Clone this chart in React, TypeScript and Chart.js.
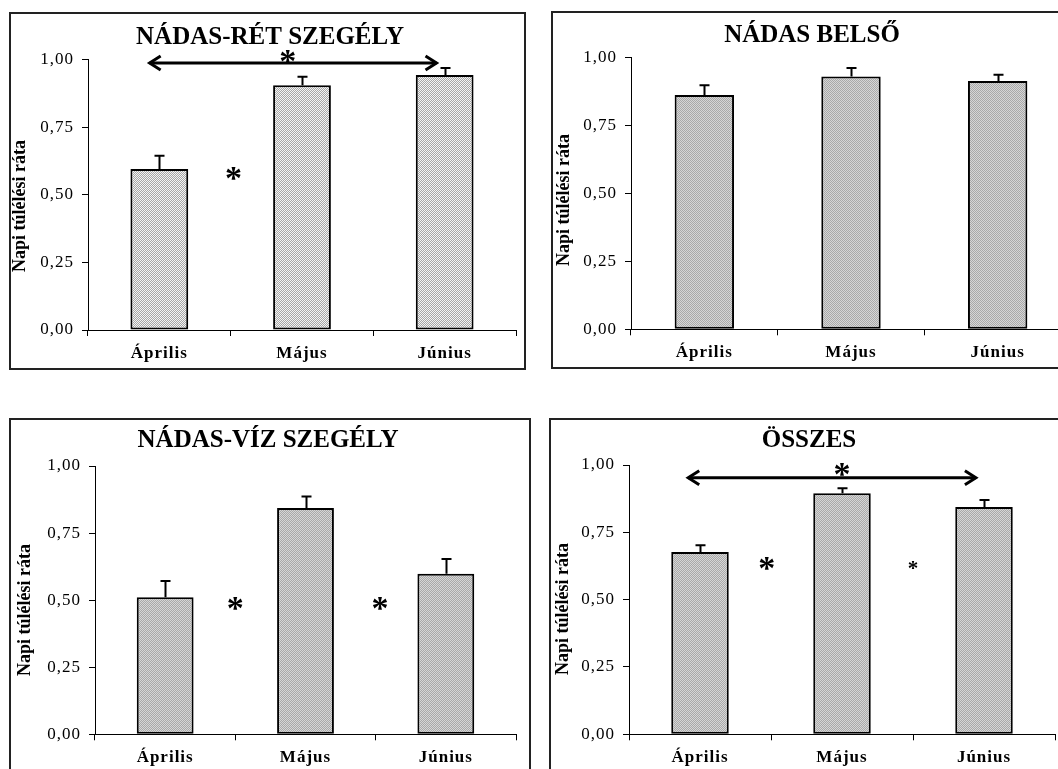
import React, { useEffect, useRef } from "react";
import { Chart, registerables } from "chart.js";

Chart.register(...registerables);

// ---------------- DATA ----------------
const months = ["Április", "Május", "Június"];
const yTickLabels = ["0,00", "0,25", "0,50", "0,75", "1,00"];
const yAxisTitle = "Napi túlélési ráta";

const titles = ["NÁDAS-RÉT SZEGÉLY", "NÁDAS BELSŐ", "NÁDAS-VÍZ SZEGÉLY", "ÖSSZES"];

const retMeans = [0.595, 0.905, 0.943];
const retErrors = [0.049, 0.031, 0.026];

const belsoMeans = [0.863, 0.931, 0.914];
const belsoErrors = [0.036, 0.031, 0.023];

const vizMeans = [0.511, 0.843, 0.598];
const vizErrors = [0.06, 0.043, 0.055];

const osszesMeans = [0.677, 0.895, 0.844];
const osszesErrors = [0.025, 0.019, 0.026];

// significance annotations (category index, value)
const retArrows = [{ from: -0.075, to: 1.95, y: 0.987 }];
const retStars = [
  { x: 0.9, y: 1.012, size: 34 },
  { x: 0.52, y: 0.579, size: 34 },
];
const belsoArrows: any[] = [];
const belsoStars: any[] = [];
const vizArrows: any[] = [];
const vizStars = [
  { x: 0.5, y: 0.489, size: 34 },
  { x: 1.53, y: 0.489, size: 34 },
];
const osszesArrows = [{ from: -0.09, to: 1.95, y: 0.953 }];
const osszesStars = [
  { x: 1.0, y: 0.985, size: 34 },
  { x: 0.47, y: 0.635, size: 34 },
  { x: 1.5, y: 0.629, size: 21 },
];

// ---------------- LAYOUT (page pixels) ----------------
const SERIF = '"Liberation Serif", "Times New Roman", Times, serif';

const panels = [
  {
    title: titles[0], means: retMeans, errors: retErrors, arrows: retArrows, stars: retStars,
    left: 9, top: 12, width: 517, height: 358,
    axisX: 88, y1: 59.5, y0: 330, xEnd: 516,
    titleX: 270, titleY: 43.5, labelX: 20, labelY: 206, light: true,
  },
  {
    title: titles[1], means: belsoMeans, errors: belsoErrors, arrows: belsoArrows, stars: belsoStars,
    left: 551, top: 11, width: 524, height: 358,
    axisX: 631, y1: 57.7, y0: 329.3, xEnd: 1071,
    titleX: 812, titleY: 41.5, labelX: 564, labelY: 200, light: false,
  },
  {
    title: titles[2], means: vizMeans, errors: vizErrors, arrows: vizArrows, stars: vizStars,
    left: 9, top: 418, width: 522, height: 372,
    axisX: 95, y1: 466, y0: 734.3, xEnd: 516,
    titleX: 268, titleY: 446.7, labelX: 25, labelY: 610, light: false,
  },
  {
    title: titles[3], means: osszesMeans, errors: osszesErrors, arrows: osszesArrows, stars: osszesStars,
    left: 549, top: 418, width: 526, height: 372,
    axisX: 629, y1: 465, y0: 734.3, xEnd: 1055,
    titleX: 809, titleY: 446.7, labelX: 563, labelY: 609, light: false,
  },
];

function makePattern(light: boolean) {
  const pc = document.createElement("canvas");
  pc.width = 2;
  pc.height = 2;
  const g = pc.getContext("2d")!;
  g.fillStyle = light ? "#f4f4f4" : "#d6d6d6";
  g.fillRect(0, 0, 2, 2);
  g.fillStyle = light ? "#a6a6a6" : "#a9a9a9";
  g.fillRect(0, 0, 1, 1);
  g.fillRect(1, 1, 1, 1);
  return g.createPattern(pc, "repeat");
}

function Panel({ p }: { p: any }) {
  const ref = useRef<HTMLCanvasElement>(null);

  useEffect(() => {
    const canvas = ref.current!;
    const spacing = {
      id: "spacing",
      beforeDraw(chart: any) {
        (chart.ctx as any).letterSpacing = "1px";
      },
    };
    const errorBars = {
      id: "errorBars",
      afterDatasetsDraw(chart: any) {
        const ctx = chart.ctx;
        const ys = chart.scales.y;
        const meta = chart.getDatasetMeta(0);
        ctx.save();
        ctx.strokeStyle = "#000";
        ctx.lineWidth = 2;
        meta.data.forEach((el: any, i: number) => {
          const top = ys.getPixelForValue(p.means[i] + p.errors[i]);
          const x = Math.round(el.x) + 0.5;
          ctx.beginPath();
          ctx.moveTo(x, el.y);
          ctx.lineTo(x, top);
          ctx.moveTo(x - 5, top);
          ctx.lineTo(x + 5, top);
          ctx.stroke();
        });
        ctx.restore();
      },
    };
    const decorations = {
      id: "decorations",
      afterDraw(chart: any) {
        const ctx = chart.ctx;
        const xs = chart.scales.x;
        const ys = chart.scales.y;
        ctx.save();
        ctx.letterSpacing = "0px";
        // title
        ctx.fillStyle = "#000";
        ctx.font = `bold 25px ${SERIF}`;
        ctx.textAlign = "center";
        ctx.textBaseline = "alphabetic";
        ctx.fillText(p.title, p.titleX - p.left, p.titleY - p.top);
        // y axis title
        ctx.save();
        ctx.translate(p.labelX - p.left, p.labelY - p.top);
        ctx.rotate(-Math.PI / 2);
        ctx.font = `bold 18px ${SERIF}`;
        ctx.textBaseline = "middle";
        ctx.fillText(yAxisTitle, 0, 0);
        ctx.restore();
        // arrows
        ctx.strokeStyle = "#000";
        ctx.lineWidth = 3;
        ctx.lineCap = "butt";
        ctx.lineJoin = "miter";
        p.arrows.forEach((a: any) => {
          const x1 = xs.getPixelForValue(a.from);
          const x2 = xs.getPixelForValue(a.to);
          const y = ys.getPixelForValue(a.y);
          ctx.beginPath();
          ctx.moveTo(x1 + 1, y);
          ctx.lineTo(x2 - 1, y);
          ctx.stroke();
          ctx.beginPath();
          ctx.moveTo(x1 + 12, y - 7);
          ctx.lineTo(x1 + 1, y);
          ctx.lineTo(x1 + 12, y + 7);
          ctx.moveTo(x2 - 12, y - 7);
          ctx.lineTo(x2 - 1, y);
          ctx.lineTo(x2 - 12, y + 7);
          ctx.stroke();
        });
        // stars
        p.stars.forEach((s: any) => {
          const x = xs.getPixelForValue(s.x);
          const y = ys.getPixelForValue(s.y);
          ctx.font = `bold ${s.size}px ${SERIF}`;
          ctx.textAlign = "center";
          ctx.textBaseline = "alphabetic";
          ctx.fillText("*", x, y + s.size * 0.47);
        });
        ctx.restore();
      },
    };

    const chart = new Chart(canvas, {
      type: "bar",
      data: {
        labels: months,
        datasets: [
          {
            data: p.means,
            backgroundColor: makePattern(p.light) as any,
            borderColor: "#000",
            borderWidth: 2,
            borderSkipped: false,
            categoryPercentage: 1,
            barPercentage: 0.405,
          },
        ],
      },
      options: {
        responsive: false,
        animation: false,
        events: [],
        layout: {
          padding: {
            left: 0,
            top: p.y1 - p.top,
            right: p.width - (p.xEnd - p.left),
            bottom: 0,
          },
        },
        plugins: {
          legend: { display: false },
          tooltip: { enabled: false },
          title: { display: false },
        },
        scales: {
          x: {
            type: "category",
            offset: true,
            grid: {
              display: true,
              offset: true,
              drawOnChartArea: false,
              drawTicks: true,
              tickLength: 6,
              color: "#000",
              lineWidth: 1,
            },
            border: { display: true, color: "#000", width: 1 },
            ticks: {
              color: "#000",
              font: { family: SERIF, size: 17, weight: "bold" },
              padding: 7,
              maxRotation: 0,
              autoSkip: false,
            },
            afterFit: (s: any) => {
              s.height = p.height - (p.y0 - p.top);
            },
          },
          y: {
            min: 0,
            max: 1,
            ticks: {
              stepSize: 0.25,
              color: "#000",
              font: { family: SERIF, size: 17 },
              padding: 8,
              callback: (_v: any, i: number) => yTickLabels[i],
            },
            grid: {
              display: true,
              drawOnChartArea: false,
              drawTicks: true,
              tickLength: 6,
              color: "#000",
              lineWidth: 1,
            },
            border: { display: true, color: "#000", width: 1 },
            afterFit: (s: any) => {
              s.width = p.axisX - p.left;
            },
          },
        },
      },
      plugins: [spacing, errorBars, decorations],
    });
    return () => chart.destroy();
  }, [p]);

  return (
    <>
      <canvas
        ref={ref}
        width={p.width}
        height={p.height}
        style={{ position: "absolute", left: p.left, top: p.top, width: p.width, height: p.height }}
      />
      <div
        style={{
          position: "absolute",
          left: p.left,
          top: p.top,
          width: p.width,
          height: p.height,
          border: "2px solid #222",
          boxSizing: "border-box",
          pointerEvents: "none",
        }}
      />
    </>
  );
}

export default function App() {
  return (
    <div
      style={{
        position: "absolute",
        left: 0,
        top: 0,
        width: 1058,
        height: 769,
        overflow: "hidden",
        background: "#fff",
      }}
    >
      {panels.map((p, i) => (
        <Panel key={i} p={p} />
      ))}
    </div>
  );
}
